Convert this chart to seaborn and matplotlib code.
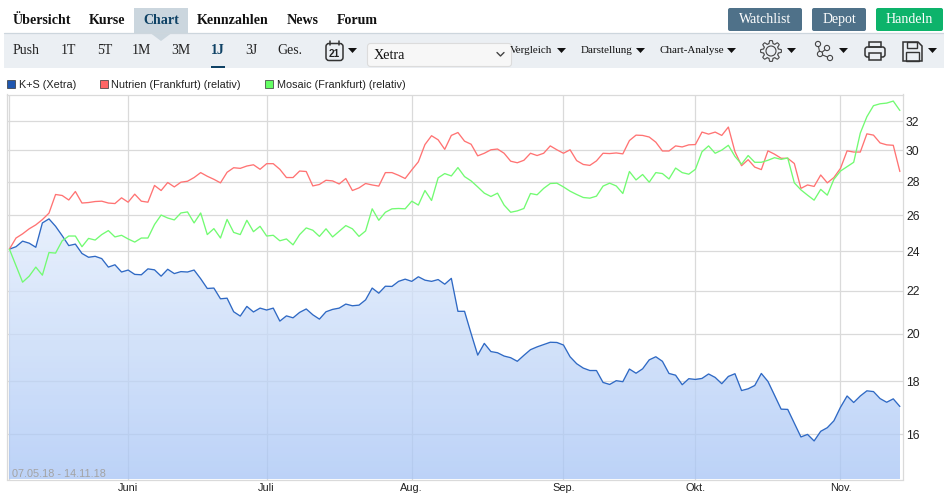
import numpy as np
import pandas as pd
import matplotlib
matplotlib.use('Agg')
import matplotlib.pyplot as plt
import seaborn as sns
from matplotlib.colors import LinearSegmentedColormap
from matplotlib.patches import Patch, Rectangle, FancyBboxPatch, Polygon, Circle

# CHART DATA (one value per trading day, 07.05.18 - 14.11.18)
ks_xetra = [
    24.11, 24.24, 24.54, 24.43, 24.21, 25.55, 25.78, 25.36, 24.84, 24.30,
    24.38, 23.88, 23.68, 23.73, 23.61, 23.17, 23.29, 22.92, 23.02, 22.80,
    22.78, 23.08, 23.03, 22.71, 23.06, 22.84, 22.94, 22.92, 23.02, 22.58,
    22.10, 22.12, 21.60, 21.63, 20.99, 20.79, 21.24, 20.98, 21.16, 21.07,
    21.16, 20.56, 20.80, 20.71, 20.96, 21.12, 20.85, 20.65, 20.99, 21.10,
    21.16, 21.35, 21.27, 21.30, 21.55, 22.12, 21.87, 22.21, 22.20, 22.45,
    22.56, 22.45, 22.68, 22.51, 22.45, 22.54, 22.31, 22.60, 21.01, 21.01,
    20.00, 19.07, 19.57, 19.22, 19.17, 19.03, 18.96, 18.81, 19.06, 19.30,
    19.42, 19.52, 19.62, 19.61, 19.50, 19.00, 18.71, 18.53, 18.43, 18.43,
    17.95, 17.87, 18.02, 17.98, 18.49, 18.32, 18.50, 18.87, 19.00, 18.81,
    18.31, 18.24, 17.86, 18.10, 18.07, 18.11, 18.29, 18.15, 17.90, 18.19,
    18.30, 17.63, 17.70, 17.83, 18.31, 17.99, 17.45, 16.92, 16.91, 16.40,
    15.91, 16.00, 15.77, 16.11, 16.24, 16.49, 16.99, 17.42, 17.17, 17.42,
    17.62, 17.59, 17.32, 17.18, 17.31, 17.02,
]
nutrien = [
    24.11, 24.71, 24.94, 25.22, 25.44, 25.74, 26.11, 27.21, 27.15, 26.88,
    27.39, 26.70, 26.73, 26.79, 26.81, 26.70, 26.67, 27.01, 26.75, 27.23,
    26.81, 26.75, 27.76, 27.45, 27.94, 27.67, 27.96, 28.02, 28.25, 28.56,
    28.33, 28.14, 27.92, 28.58, 28.87, 28.83, 28.98, 29.06, 28.77, 29.13,
    29.13, 28.77, 28.25, 28.25, 28.66, 28.63, 27.73, 27.82, 28.08, 28.04,
    27.85, 28.19, 27.45, 27.61, 27.88, 27.79, 27.72, 28.56, 28.56, 28.39,
    28.19, 28.73, 29.25, 30.39, 30.99, 30.71, 30.07, 31.01, 31.21, 30.62,
    30.41, 29.64, 29.81, 30.04, 30.09, 29.81, 29.29, 29.19, 29.35, 29.81,
    29.66, 29.81, 30.30, 30.04, 29.81, 30.04, 29.33, 29.08, 29.02, 29.31,
    29.81, 29.79, 29.83, 29.77, 30.66, 31.03, 31.01, 30.90, 30.55, 29.96,
    29.96, 30.30, 30.23, 30.37, 30.39, 31.24, 31.10, 31.24, 31.01, 31.59,
    29.91, 29.00, 29.39, 28.91, 28.75, 29.97, 29.75, 29.48, 29.48, 29.14,
    27.58, 27.79, 27.70, 28.41, 27.92, 28.25, 28.83, 29.97, 29.89, 29.89,
    31.12, 31.03, 30.50, 30.37, 30.34, 28.63,
]
mosaic = [
    24.11, 23.25, 22.41, 22.71, 23.17, 22.76, 23.93, 23.90, 24.56, 24.82,
    24.82, 24.24, 24.69, 24.60, 24.90, 25.12, 24.77, 24.86, 24.66, 24.49,
    24.71, 24.71, 25.46, 26.00, 25.83, 25.72, 26.12, 26.18, 25.55, 26.12,
    24.90, 25.23, 24.71, 25.75, 25.02, 24.90, 25.70, 25.06, 25.36, 24.82,
    24.86, 24.56, 24.66, 24.34, 24.90, 25.27, 25.14, 24.80, 25.22, 24.77,
    25.08, 25.40, 25.22, 24.80, 25.10, 26.36, 25.70, 26.16, 26.36, 26.38,
    26.36, 26.81, 26.58, 27.45, 26.85, 28.23, 28.50, 28.35, 28.88, 28.31,
    28.04, 27.67, 27.29, 27.09, 27.29, 26.58, 26.16, 26.24, 26.38, 27.27,
    27.19, 27.58, 27.88, 27.90, 27.67, 27.41, 27.21, 27.03, 26.99, 27.11,
    27.72, 27.90, 27.73, 27.27, 28.63, 28.10, 28.44, 27.96, 28.56, 28.50,
    28.16, 28.85, 28.56, 28.46, 28.77, 29.91, 30.30, 29.81, 30.02, 30.34,
    29.60, 29.10, 29.66, 29.22, 29.22, 29.35, 29.52, 29.41, 29.50, 27.92,
    27.49, 27.17, 26.87, 27.52, 27.17, 28.14, 28.66, 28.94, 29.22, 31.17,
    32.32, 33.12, 33.26, 33.31, 33.46, 32.77,
]
series_names = ['K+S (Xetra)', 'Nutrien (Frankfurt) (relativ)', 'Mosaic (Frankfurt) (relativ)']
month_pos = [0, 18, 39, 61, 84, 104, 126]
month_labels = ['', 'Juni', 'Juli', 'Aug.', 'Sep.', 'Okt.', 'Nov.']
price_ticks = [16, 18, 20, 22, 24, 26, 28, 30, 32]
range_label = '07.05.18 - 14.11.18'

nav_items = [('Übersicht', 13), ('Kurse', 89), ('Chart', 143), ('Kennzahlen', 197), ('News', 287), ('Forum', 337)]
period_items = [('Push', 13), ('1T', 61), ('5T', 97), ('1M', 132), ('3M', 171), ('1J', 211), ('3J', 245), ('Ges.', 277)]
menu_items = [('Vergleich', 510, 557), ('Darstellung', 581, 636), ('Chart-Analyse', 660, 727)]
buttons = [('Watchlist', 728, 802, '#4f7189'), ('Depot', 812, 866, '#4f7189'), ('Handeln', 876, 943, '#0db36b')]

W, H = 944, 494
BLUE, RED, GREEN = '#2f69c4', '#ff7373', '#72fb72'
GRID = '#dadada'
SERIF = 'Liberation Serif'
SANS = 'Liberation Sans'

sns.set_theme(style='white')
plt.rcParams['font.family'] = SANS

fig = plt.figure(figsize=(W / 100, H / 100), dpi=100, facecolor='white')

# PRICE CHART
left, right, top, bottom = 6.5, 902.5, 94.5, 479.5
ax = fig.add_axes([left / W, 1 - bottom / H, (right - left) / W, (bottom - top) / H], zorder=2)

days = np.arange(len(ks_xetra))
df = pd.DataFrame({
    'day': np.tile(days, 3),
    'price': ks_xetra + nutrien + mosaic,
    'name': np.repeat(series_names, len(days)),
})

ymin, ymax = 14.48, 33.95
ax.set_yscale('log')
ax.set_xlim(-0.44, 135.4)
ax.set_ylim(ymin, ymax)

# area under K+S with a vertical gradient, grid shows through a bit
area = ax.fill_between(days, ks_xetra, ymin, color='none', lw=0)
cmap = LinearSegmentedColormap.from_list('area', ['#a6c4f5', '#e0ebfb'])
edges = np.geomspace(ymin, 25.9, 131)
mesh = ax.pcolormesh([days[0], days[-1]], edges, np.linspace(0, 1, 130).reshape(-1, 1),
                     cmap=cmap, alpha=0.75, shading='flat', zorder=1, lw=0, rasterized=True)
mesh.set_clip_path(area.get_paths()[0], ax.transData)

sns.lineplot(data=df, x='day', y='price', hue='name', palette=[BLUE, RED, GREEN],
             hue_order=series_names, lw=0.95, legend=False, ax=ax, zorder=3)

ax.set_axisbelow(True)
ax.grid(True, color=GRID, lw=0.9)
ax.yaxis.tick_right()
ax.set_yticks(price_ticks, [str(t) for t in price_ticks])
ax.minorticks_off()
ax.set_xticks(month_pos, month_labels)
ax.tick_params(axis='x', length=0, pad=2.2, labelsize=7.9, colors='#222222')
ax.tick_params(axis='y', length=0, pad=2.5, labelsize=8.7, colors='#222222')
ax.set_xlabel('')
ax.set_ylabel('')
for s in ax.spines.values():
    s.set_color(GRID)
    s.set_linewidth(0.9)
ax.annotate(range_label, xy=(0, 0), xycoords='axes fraction', xytext=(4, 0.3),
            textcoords='offset points', fontsize=7.8, color='#a3a3a3', va='bottom', zorder=4)

# LEGEND
handles = [Patch(facecolor='#1f57b0', edgecolor='#333333', lw=0.5),
           Patch(facecolor='#ff6464', edgecolor='#333333', lw=0.5),
           Patch(facecolor='#64ff64', edgecolor='#333333', lw=0.5)]
fig.legend(handles, series_names, ncols=3, loc='upper left', bbox_to_anchor=(7 / W, 1 - 79.5 / H),
           frameon=False, fontsize=7.8, handlelength=0.72, handleheight=0.72, handletextpad=0.36,
           columnspacing=2.2, borderpad=0, borderaxespad=0, labelcolor='#222222')

# PAGE HEADER, drawn in pixel coordinates
ui = fig.add_axes([0, 0, 1, 1], zorder=1)
ui.set_xlim(0, W)
ui.set_ylim(H, 0)
ui.axis('off')

def caret(x, y=50.5, w=9, h=5):
    ui.add_patch(Polygon([(x, y - h / 2), (x + w, y - h / 2), (x + w / 2, y + h / 2)], fc='#111111', ec='none'))

ui.add_patch(Rectangle((4, 34), W - 4, 34, fc='#ebeff3', ec='none'))
ui.plot([4, W], [33.5, 33.5], color='#cdd6dd', lw=0.9)
ui.add_patch(Rectangle((134, 8), 54, 25.5, fc='#cbd6de', ec='none'))
ui.add_patch(Polygon([(151, 33.5), (171, 33.5), (161, 41)], fc='#cbd6de', ec='none'))

for name, x in nav_items:
    ui.text(x, 21, name, family=SERIF, weight='bold', fontsize=10.1, va='center',
            color='#0f4265' if name == 'Chart' else '#111111')
for name, x in period_items:
    active = name == '1J'
    ui.text(x, 50.5, name, family=SERIF, weight='bold' if active else 'normal', fontsize=10, va='center',
            color='#0f4265' if active else '#222222')
ui.add_patch(Rectangle((211, 66), 14, 2, fc='#0f4265', ec='none'))

# calendar
ui.add_patch(FancyBboxPatch((326, 43.5), 17, 17, boxstyle='round,pad=0,rounding_size=3', fc='none', ec='#333333', lw=1.1))
ui.plot([330, 330], [41, 45], color='#333333', lw=1.1)
ui.plot([339, 339], [41, 45], color='#333333', lw=1.1)
ui.text(334.5, 54, '21', weight='bold', fontsize=7.2, ha='center', va='center', color='#222222')
caret(348)

# exchange select
ui.add_patch(FancyBboxPatch((367.5, 43.5), 144, 23, boxstyle='round,pad=0,rounding_size=3', fc='#f7f7f7', ec='#dcdcdc', lw=0.8))
ui.text(374, 55.5, 'Xetra', family=SERIF, fontsize=10.3, va='center', color='#111111')
ui.plot([497, 500.5, 504], [52.5, 56, 52.5], color='#444444', lw=1)

for name, x, cx in menu_items:
    ui.text(x, 50.5, name, family=SERIF, fontsize=7.9, va='center', color='#111111')
    caret(cx)

for name, x0, x1, col in buttons:
    ui.add_patch(FancyBboxPatch((x0, 8), x1 - x0, 23, boxstyle='round,pad=0,rounding_size=2', fc=col, ec='none'))
    ui.text((x0 + x1) / 2, 19.5, name, family=SERIF, fontsize=10, ha='center', va='center', color='white')

# gear
ang = np.linspace(0, 2 * np.pi, 97)
rad = 9 + 1.4 * np.clip(2.2 * np.cos(8 * ang), -1, 1)
ui.add_patch(Polygon(np.c_[771 + rad * np.cos(ang), 51 + rad * np.sin(ang)], fc='none', ec='#444444', lw=0.8))
ui.add_patch(Circle((771, 51), 5, fc='none', ec='#444444', lw=0.8))
caret(787)

# network
for a, b in [((818, 44), (820, 54)), ((827, 48), (820, 54)), ((820, 54), (830, 58))]:
    ui.plot([a[0], b[0]], [a[1], b[1]], color='#444444', lw=0.8)
for n in [(818, 44), (827, 48), (820, 54), (830, 58)]:
    ui.add_patch(Circle(n, 2.6, fc='#ebeff3', ec='#444444', lw=0.8, zorder=3))
caret(839)

# printer
ui.add_patch(FancyBboxPatch((865, 47), 20, 10, boxstyle='round,pad=0,rounding_size=2.5', fc='none', ec='#333333', lw=1.1))
ui.add_patch(Rectangle((869, 42), 12, 5, fc='none', ec='#333333', lw=1.1))
ui.add_patch(Rectangle((869, 53), 12, 7, fc='#ebeff3', ec='#333333', lw=1.1, zorder=3))

# save
ui.add_patch(Polygon([(903, 42), (918, 42), (922, 46), (922, 61), (903, 61)], fc='none', ec='#333333', lw=1.1))
ui.add_patch(Rectangle((907, 42), 10, 6, fc='none', ec='#333333', lw=1))
ui.add_patch(Rectangle((906, 52), 13, 9, fc='none', ec='#333333', lw=1))
caret(928)

fig.savefig('out.png', dpi=100, facecolor='white')
